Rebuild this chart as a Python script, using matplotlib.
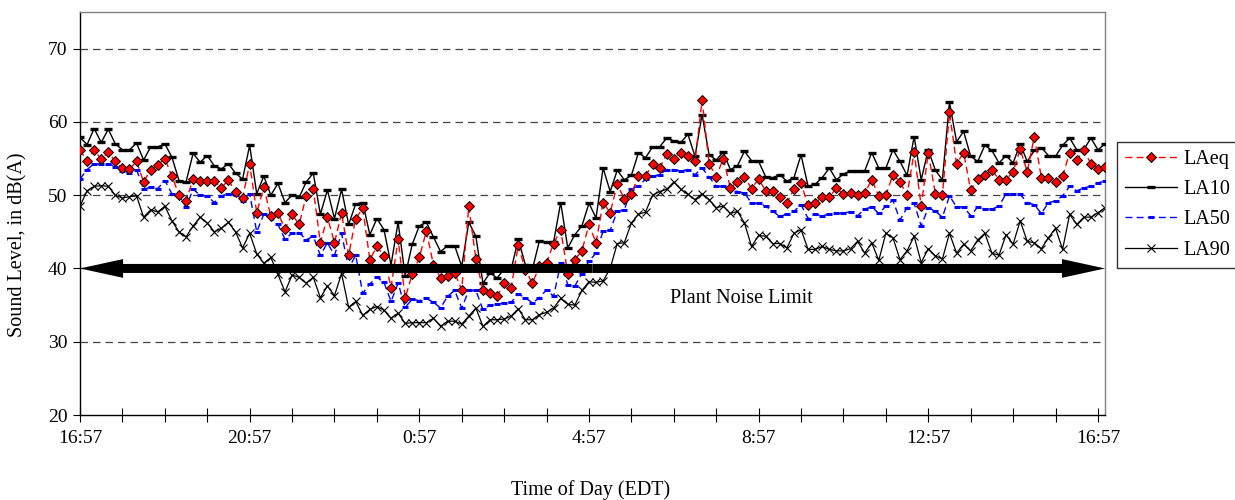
import numpy as np
import matplotlib.pyplot as plt
from matplotlib.patches import FancyArrowPatch, ArrowStyle

plt.rcParams['font.family'] = ['Liberation Serif', 'DejaVu Serif']
plt.rcParams['font.size'] = 14

# 10-minute readings, starting 16:57
laeq = [56.2, 54.6, 56.2, 54.9, 55.9, 54.6, 53.7, 53.6, 54.6, 51.8, 53.5, 54.1, 55.0, 52.6, 50.0, 49.2,
        52.2, 52.0, 52.0, 51.9, 51.0, 52.1, 50.4, 49.6, 54.3, 47.6, 51.1, 47.1, 47.6, 45.4, 47.4, 46.0,
        49.9, 50.8, 43.5, 47.0, 43.5, 47.6, 41.8, 46.8, 48.2, 41.2, 43.0, 41.7, 37.4, 44.0, 36.0, 39.2,
        41.5, 45.1, 40.5, 38.7, 39.0, 39.4, 37.1, 48.5, 41.3, 37.1, 36.7, 36.2, 38.0, 37.4, 43.2, 39.8,
        38.0, 40.3, 40.8, 43.4, 45.3, 39.3, 41.2, 42.4, 46.0, 43.5, 49.0, 47.6, 51.5, 49.5, 50.2, 52.6,
        52.6, 54.3, 53.7, 55.6, 55.0, 55.8, 55.4, 54.6, 63.0, 54.3, 52.5, 55.0, 51.0, 51.8, 52.5, 50.9,
        52.2, 50.6, 50.6, 49.8, 49.0, 50.8, 51.6, 48.6, 48.9, 49.8, 49.7, 51.0, 50.1, 50.3, 50.0, 50.3,
        52.1, 49.9, 50.0, 52.8, 51.8, 50.0, 55.9, 48.5, 55.8, 50.2, 50.0, 61.3, 54.3, 55.8, 50.7, 52.2,
        52.7, 53.5, 52.1, 52.1, 53.2, 56.3, 53.2, 58.0, 52.4, 52.3, 51.8, 52.6, 55.8, 54.8, 56.1, 54.3,
        53.6, 53.8]
la10 = [57.9, 56.9, 59.1, 57.2, 59.0, 57.0, 56.2, 56.2, 57.1, 54.8, 56.6, 56.6, 57.0, 55.2, 52.0, 51.8,
        55.7, 54.5, 55.4, 54.0, 53.6, 54.3, 53.0, 52.2, 56.8, 50.2, 52.6, 50.0, 51.6, 49.0, 50.0, 49.7,
        51.8, 53.0, 47.4, 50.7, 46.8, 50.8, 46.0, 48.8, 49.0, 44.6, 46.8, 45.3, 40.5, 46.3, 39.0, 43.3,
        45.8, 46.3, 44.3, 42.3, 43.1, 43.1, 40.3, 46.3, 44.4, 38.0, 39.4, 38.7, 39.9, 39.9, 44.0, 40.5,
        39.9, 43.8, 43.6, 43.6, 49.0, 42.8, 44.6, 45.8, 48.9, 46.9, 53.7, 50.5, 53.4, 52.1, 52.7, 55.8,
        55.1, 56.6, 56.6, 57.8, 57.4, 57.2, 58.3, 55.3, 61.0, 55.5, 54.8, 55.9, 53.5, 54.0, 56.0, 54.7,
        54.6, 52.5, 52.4, 52.8, 51.9, 52.4, 55.5, 51.2, 51.5, 52.4, 53.7, 52.1, 52.9, 53.3, 53.3, 53.3,
        55.8, 53.7, 53.7, 56.2, 54.6, 52.7, 58.0, 52.1, 56.2, 53.4, 52.1, 62.7, 57.3, 58.7, 55.3, 54.6,
        56.8, 56.1, 54.4, 55.4, 54.4, 57.0, 54.6, 56.1, 56.5, 55.4, 55.3, 56.8, 57.8, 56.2, 56.2, 57.8,
        56.2, 57.0]
la50 = [52.2, 53.5, 54.3, 54.2, 54.3, 53.9, 53.3, 53.0, 53.5, 50.8, 51.1, 50.9, 52.0, 50.2, 49.9, 48.4,
        50.8, 50.0, 49.9, 49.0, 49.9, 50.2, 50.0, 49.2, 50.2, 45.0, 47.4, 47.0, 46.0, 44.0, 44.8, 44.9,
        43.9, 44.4, 41.8, 43.5, 41.8, 44.8, 40.0, 41.8, 36.6, 37.9, 38.8, 38.1, 35.5, 38.0, 34.7, 35.8,
        35.6, 35.9, 35.4, 34.6, 36.2, 37.0, 34.6, 37.0, 37.0, 34.4, 35.0, 35.1, 35.3, 35.4, 36.5, 36.0,
        35.3, 36.0, 37.1, 36.2, 40.7, 37.8, 37.6, 39.3, 41.0, 42.1, 45.1, 45.2, 47.8, 48.0, 50.9, 51.2,
        52.2, 52.6, 52.8, 53.5, 53.5, 53.3, 53.5, 52.8, 53.7, 52.5, 51.2, 51.2, 50.8, 50.5, 50.3, 48.9,
        48.9, 48.5, 47.8, 47.1, 47.4, 47.8, 48.7, 46.8, 47.4, 47.2, 47.4, 47.5, 47.6, 47.7, 47.2, 48.1,
        48.4, 47.5, 48.5, 49.3, 46.6, 48.3, 48.9, 45.8, 48.3, 47.8, 47.0, 49.9, 48.4, 48.4, 47.2, 48.4,
        48.1, 48.1, 48.5, 50.2, 50.1, 50.1, 49.0, 48.7, 47.5, 49.0, 49.2, 49.9, 51.2, 50.6, 51.0, 51.2,
        51.7, 51.9]
la90 = [48.5, 50.6, 51.2, 51.3, 51.2, 50.0, 49.6, 49.8, 49.9, 47.0, 48.0, 47.7, 48.5, 46.5, 45.0, 44.3,
        45.8, 47.0, 46.2, 45.0, 45.5, 46.3, 45.0, 42.8, 44.8, 42.0, 40.7, 41.5, 39.2, 36.8, 39.1, 38.8,
        38.0, 38.8, 36.0, 37.6, 36.3, 39.3, 34.7, 35.5, 33.6, 34.4, 34.8, 34.3, 33.2, 33.9, 32.5, 32.6,
        32.6, 32.6, 33.2, 32.1, 32.8, 32.8, 32.4, 33.5, 34.6, 32.1, 33.0, 33.0, 33.1, 33.5, 34.5, 33.0,
        33.0, 33.7, 34.0, 34.6, 35.9, 35.1, 35.0, 37.0, 38.2, 38.1, 38.3, 40.0, 43.4, 43.5, 46.2, 47.4,
        47.7, 50.0, 50.5, 50.8, 51.8, 50.8, 50.1, 49.4, 50.2, 49.4, 48.3, 48.5, 47.5, 47.8, 46.2, 43.0,
        44.5, 44.4, 43.4, 43.4, 42.8, 44.8, 45.3, 42.6, 42.6, 43.0, 42.6, 42.4, 42.4, 42.7, 43.7, 42.1,
        43.5, 41.1, 44.8, 44.2, 41.2, 42.4, 44.4, 40.8, 42.7, 41.7, 41.3, 44.8, 42.1, 43.3, 42.4, 43.9,
        44.8, 42.1, 41.8, 44.6, 43.3, 46.5, 43.7, 43.5, 42.7, 44.2, 45.5, 42.6, 47.4, 46.0, 47.0, 47.0,
        47.6, 48.3]

time_labels = ['16:57', '20:57', '0:57', '4:57', '8:57', '12:57', '16:57']
noise_limit = 40

x = np.arange(len(laeq))

fig = plt.figure(figsize=(12.35, 5), dpi=100)
ax = fig.add_axes([80/1235, 85/500, 1025/1235, 403/500])

for v in [30, 40, 50, 60, 70]:
    ax.axhline(v, color='#444444', lw=0.9, ls=(0, (6, 4)), zorder=0)

ax.plot(x, la90, color='black', lw=0.9, marker='x', ms=5.5, mew=0.8, label='LA90', zorder=2)
ax.plot(x, la50, color='#0000ff', lw=1.0, ls=(0, (5, 3)), marker='_', ms=5, mew=2.2, label='LA50', zorder=3)
ax.plot(x, la10, color='black', lw=1.0, marker='_', ms=6, mew=2.4, label='LA10', zorder=4)
ax.plot(x, laeq, color='#ff0000', lw=1.0, ls=(0, (5, 3)), marker='D', ms=5.5, mfc='#ff0000',
        mec='black', mew=0.7, label='LAeq', zorder=5)

# double-headed arrow at the plant noise limit
mid = (x[0] + x[-1]) / 2
style = ArrowStyle('Simple', head_length=31, head_width=13.5, tail_width=6.5)
for end in (x[0], x[-1]):
    ax.add_patch(FancyArrowPatch((mid, noise_limit), (end, noise_limit), arrowstyle=style,
                                 mutation_scale=1, color='black', lw=0, shrinkA=0, shrinkB=0, zorder=6))
ax.text(93.6, 35.9, 'Plant Noise Limit', ha='center', va='center', fontsize=14.5)

ax.set_xlim(x[0], x[-1])
ax.set_ylim(20, 75)
ax.set_yticks([20, 30, 40, 50, 60, 70])
ax.set_xticks(np.arange(0, len(x), 24))
ax.set_xticklabels(time_labels)
ax.set_xticks(np.arange(0, len(x), 6), minor=True)
ax.tick_params(axis='x', which='both', direction='inout', length=10, width=0.8, pad=6, labelsize=14)
ax.tick_params(axis='y', direction='out', length=5, width=0.8, pad=4, labelsize=14)

for s in ['top', 'right']:
    ax.spines[s].set_color('#808080')
    ax.spines[s].set_linewidth(1.0)
for s in ['left', 'bottom']:
    ax.spines[s].set_color('black')
    ax.spines[s].set_linewidth(1.0)

fig.text(18/1235, 1 - 245/500, 'Sound Level, in dB(A)', rotation=90, ha='center', va='center', fontsize=14.5)
fig.text(591/1235, 1 - 490/500, 'Time of Day (EDT)', ha='center', va='center', fontsize=14.5)

h, l = ax.get_legend_handles_labels()
order = [3, 2, 1, 0]
leg = fig.legend([h[i] for i in order], [l[i] for i in order], loc='upper left',
                 bbox_to_anchor=(1117/1235, 1 - 142/500), frameon=True, fancybox=False,
                 edgecolor='black', fontsize=14.5, handlelength=2.6, handletextpad=0.3,
                 labelspacing=0.55, borderpad=0.4, borderaxespad=0)
leg.get_frame().set_linewidth(1.0)

fig.savefig('out.png', dpi=100)
